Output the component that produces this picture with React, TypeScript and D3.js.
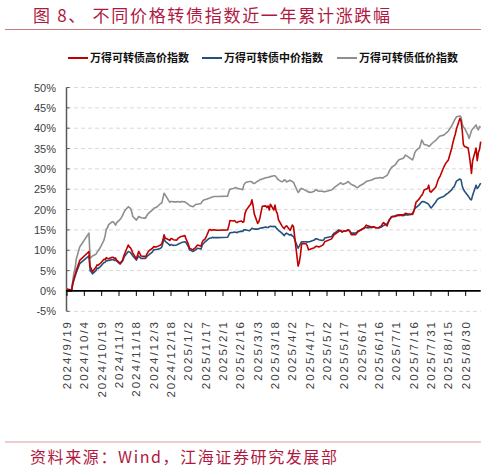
import React, { useRef, useEffect } from 'react';
import * as d3 from 'd3';

// 交易日（2024/9/19 – 2025/9/12）
const dates = [
  '2024-09-19', '2024-09-23', '2024-09-24', '2024-09-25', '2024-09-26', '2024-09-27', '2024-09-30',
  '2024-10-08', '2024-10-09', '2024-10-10', '2024-10-11', '2024-10-14', '2024-10-15', '2024-10-16',
  '2024-10-17', '2024-10-18', '2024-10-21', '2024-10-22', '2024-10-23', '2024-10-24', '2024-10-25',
  '2024-10-28', '2024-10-29', '2024-10-30', '2024-10-31', '2024-11-01', '2024-11-04', '2024-11-05',
  '2024-11-06', '2024-11-07', '2024-11-08', '2024-11-11', '2024-11-12', '2024-11-13', '2024-11-14',
  '2024-11-15', '2024-11-18', '2024-11-19', '2024-11-20', '2024-11-21', '2024-11-22', '2024-11-25',
  '2024-11-26', '2024-11-27', '2024-11-28', '2024-11-29', '2024-12-02', '2024-12-03', '2024-12-05',
  '2024-12-06', '2024-12-09', '2024-12-10', '2024-12-11', '2024-12-12', '2024-12-13', '2024-12-16',
  '2024-12-17', '2024-12-18', '2024-12-19', '2024-12-20', '2024-12-23', '2024-12-24', '2024-12-26',
  '2024-12-27', '2024-12-30', '2024-12-31', '2025-01-02', '2025-01-03', '2025-01-06', '2025-01-07',
  '2025-01-08', '2025-01-09', '2025-01-10', '2025-01-13', '2025-01-14', '2025-01-15', '2025-01-16',
  '2025-01-17', '2025-01-20', '2025-01-21', '2025-01-22', '2025-01-23', '2025-01-24', '2025-01-27',
  '2025-02-05', '2025-02-06', '2025-02-07', '2025-02-10', '2025-02-11', '2025-02-12', '2025-02-13',
  '2025-02-14', '2025-02-17', '2025-02-18', '2025-02-19', '2025-02-20', '2025-02-21', '2025-02-24',
  '2025-02-25', '2025-02-26', '2025-02-27', '2025-02-28', '2025-03-03', '2025-03-04', '2025-03-05',
  '2025-03-06', '2025-03-07', '2025-03-10', '2025-03-11', '2025-03-12', '2025-03-13', '2025-03-14',
  '2025-03-17', '2025-03-18', '2025-03-19', '2025-03-20', '2025-03-21', '2025-03-24', '2025-03-25',
  '2025-03-26', '2025-03-27', '2025-03-28', '2025-03-31', '2025-04-01', '2025-04-02', '2025-04-03',
  '2025-04-07', '2025-04-08', '2025-04-09', '2025-04-10', '2025-04-11', '2025-04-14', '2025-04-15',
  '2025-04-16', '2025-04-17', '2025-04-18', '2025-04-21', '2025-04-22', '2025-04-23', '2025-04-24',
  '2025-04-25', '2025-04-28', '2025-04-29', '2025-04-30', '2025-05-06', '2025-05-07', '2025-05-08',
  '2025-05-09', '2025-05-12', '2025-05-13', '2025-05-14', '2025-05-15', '2025-05-16', '2025-05-19',
  '2025-05-20', '2025-05-21', '2025-05-22', '2025-05-23', '2025-05-26', '2025-05-27', '2025-05-28',
  '2025-05-29', '2025-05-30', '2025-06-03', '2025-06-04', '2025-06-05', '2025-06-06', '2025-06-09',
  '2025-06-10', '2025-06-11', '2025-06-12', '2025-06-13', '2025-06-16', '2025-06-17', '2025-06-18',
  '2025-06-19', '2025-06-20', '2025-06-23', '2025-06-24', '2025-06-25', '2025-06-26', '2025-06-27',
  '2025-06-30', '2025-07-01', '2025-07-02', '2025-07-03', '2025-07-04', '2025-07-07', '2025-07-08',
  '2025-07-09', '2025-07-10', '2025-07-11', '2025-07-14', '2025-07-15', '2025-07-16', '2025-07-17',
  '2025-07-18', '2025-07-21', '2025-07-22', '2025-07-23', '2025-07-24', '2025-07-25', '2025-07-28',
  '2025-07-29', '2025-07-30', '2025-07-31', '2025-08-01', '2025-08-04', '2025-08-05', '2025-08-06',
  '2025-08-07', '2025-08-08', '2025-08-11', '2025-08-12', '2025-08-13', '2025-08-14', '2025-08-15',
  '2025-08-18', '2025-08-19', '2025-08-20', '2025-08-21', '2025-08-22', '2025-08-25', '2025-08-26',
  '2025-08-27', '2025-08-28', '2025-08-29', '2025-09-01', '2025-09-02', '2025-09-03', '2025-09-04',
  '2025-09-05', '2025-09-08', '2025-09-09', '2025-09-10', '2025-09-11', '2025-09-12'
];

// 万得可转债高价指数 (%)
const highPrice = [
  0.5, 0.2, 2.0, 3.0, 4.0, 5.0, 7.5,
  9.7, 6.0, 5.5, 4.7, 5.8, 6.4, 6.3,
  6.6, 6.8, 7.8, 7.7, 8.2, 8.0, 7.9,
  8.3, 8.3, 8.0, 8.1, 7.6, 6.8, 7.2,
  7.5, 8.5, 9.2, 11.3, 10.8, 10.6, 10.0,
  9.3, 7.9, 8.8, 9.7, 9.2, 8.6, 8.5,
  8.4, 9.0, 9.5, 9.9, 10.5, 10.9, 10.8,
  10.9, 11.3, 11.6, 12.5, 13.8, 13.0, 12.6,
  12.4, 12.9, 12.8, 12.6, 12.5, 12.9, 13.3,
  13.4, 13.6, 12.8, 11.5, 10.5, 10.1, 10.4,
  10.6, 11.0, 11.3, 11.0, 12.0, 12.5, 12.6,
  13.0, 15.0, 15.1, 14.9, 15.0, 15.0, 14.9,
  15.0, 16.0, 17.3, 17.2, 17.3, 17.0, 16.8,
  17.0, 17.2, 16.9, 17.0, 19.0, 19.8, 21.0,
  21.3, 22.4, 21.0, 19.0, 16.6, 17.0, 18.0,
  19.5, 20.8, 20.9, 20.5, 20.9, 19.9, 21.3,
  19.9, 21.1, 19.6, 19.0, 17.5, 16.0, 15.6,
  15.3, 15.8, 16.0, 14.9, 15.5, 16.2, 15.8,
  6.1, 7.0, 8.8, 11.5, 11.7, 11.6, 11.0,
  10.1, 10.2, 10.3, 10.6, 10.9, 11.0, 10.9,
  10.8, 11.2, 11.5, 12.1, 12.8, 13.3, 13.8,
  14.0, 14.6, 14.8, 14.8, 14.5, 14.7, 14.8,
  15.0, 14.9, 14.5, 13.8, 13.8, 13.9, 14.3,
  14.8, 14.8, 15.4, 15.8, 16.2, 16.0, 15.8,
  15.6, 15.8, 15.7, 15.5, 15.6, 15.8, 16.0,
  16.5, 16.8, 16.0, 16.8, 17.5, 17.9, 18.2,
  18.3, 18.4, 18.6, 18.7, 18.7, 18.7, 18.9,
  19.1, 19.0, 18.9, 18.9, 18.8, 19.5, 20.5,
  21.8, 22.7, 23.2, 23.5, 24.0, 24.8, 25.2,
  26.0, 24.5, 24.3, 24.6, 25.5, 26.3, 27.2,
  27.8, 28.3, 30.4, 31.0, 31.5, 31.8, 32.2,
  35.2, 36.5, 37.6, 38.5, 39.8, 42.4, 41.8,
  39.5, 36.0, 35.5, 35.2, 33.6, 31.5, 28.9,
  32.0, 35.1, 32.0, 34.0, 34.8, 36.7
];

// 万得可转债中价指数 (%)
const midPrice = [
  0.2, 0.0, 1.7, 2.7, 3.6, 4.5, 6.7,
  8.6, 5.0, 4.7, 4.2, 5.0, 5.6, 5.5,
  5.8, 6.0, 7.0, 7.0, 7.5, 7.4, 7.5,
  7.7, 7.7, 7.5, 7.6, 7.3, 6.6, 7.0,
  7.3, 8.0, 8.6, 9.7, 9.6, 9.4, 9.0,
  8.6, 7.6, 8.1, 8.6, 8.3, 8.0, 8.0,
  8.0, 8.4, 8.7, 8.9, 9.6, 10.1, 10.2,
  10.2, 10.5, 10.8, 11.8, 12.9, 12.2, 11.5,
  11.2, 11.4, 11.3, 11.2, 11.3, 11.5, 11.7,
  11.9, 12.1, 11.9, 10.9, 10.1, 9.7, 9.9,
  10.0, 10.3, 10.5, 10.3, 11.2, 11.7, 11.9,
  12.2, 12.9, 13.0, 13.0, 13.2, 13.1, 13.1,
  13.2, 13.8, 14.3, 14.4, 14.5, 14.4, 14.3,
  14.5, 14.7, 14.6, 15.0, 15.0, 15.0, 14.8,
  15.1, 15.4, 15.3, 15.2, 15.2, 15.3, 15.4,
  15.5, 15.5, 15.7, 15.6, 15.6, 15.8, 15.9,
  15.8, 15.9, 15.5, 15.2, 14.9, 14.2, 13.9,
  13.6, 14.0, 14.2, 13.7, 13.9, 13.5, 13.4,
  10.5, 11.0, 11.6, 12.1, 12.1, 12.1, 12.0,
  12.1, 12.1, 12.2, 12.5, 12.8, 12.8, 12.7,
  12.6, 12.4, 12.5, 13.0, 13.4, 13.8, 14.2,
  14.3, 15.0, 14.9, 14.8, 14.5, 14.6, 14.8,
  15.0, 14.9, 14.6, 14.2, 14.2, 14.3, 14.4,
  14.6, 14.8, 15.5, 15.6, 15.6, 15.5, 15.6,
  15.6, 15.7, 15.7, 15.6, 15.5, 15.6, 15.7,
  15.9, 16.1, 16.5, 17.0, 17.5, 17.9, 18.3,
  18.5, 18.6, 18.6, 18.5, 18.6, 18.5, 18.6,
  18.7, 18.7, 18.7, 18.8, 19.0, 19.6, 20.2,
  20.5, 21.2, 21.6, 21.9, 22.0, 21.9, 21.5,
  21.3, 20.8, 20.4, 20.7, 21.8, 22.3, 22.6,
  22.8, 22.9, 23.2, 23.5, 23.7, 23.9, 24.1,
  24.9, 25.4, 25.6, 26.3, 27.0, 27.5, 27.3,
  25.8, 25.0, 24.5, 23.4, 23.0, 22.5, 22.4,
  23.5, 26.0, 25.2, 25.5, 26.0, 26.5
];

// 万得可转债低价指数 (%)
const lowPrice = [
  0.0, 0.0, 2.5, 4.5, 5.5, 7.8, 10.8,
  14.2, 8.0, 8.3, 8.6, 9.0, 9.5, 9.9,
  10.3, 10.8, 12.5, 13.6, 15.2, 15.5, 16.3,
  17.0, 17.0, 16.6, 16.2, 16.8, 17.6, 18.0,
  18.5, 19.2, 19.7, 20.7, 20.5, 20.3, 19.4,
  18.3, 17.4, 17.8, 18.3, 18.2, 18.0, 17.9,
  17.9, 18.5, 18.9, 19.2, 19.9, 20.3, 20.5,
  20.7, 21.5, 21.6, 22.8, 24.0, 23.6, 22.2,
  21.8, 22.0, 22.0, 21.9, 21.9, 22.0, 21.8,
  22.0, 21.9, 21.7, 21.3, 21.0, 20.7, 20.9,
  21.2, 21.3, 21.3, 21.5, 22.0, 22.3, 22.4,
  22.5, 22.8, 22.9, 23.0, 23.1, 23.2, 23.2,
  23.3, 24.3, 25.0, 25.2, 25.3, 25.4, 25.3,
  25.2, 25.0, 24.9, 26.0, 26.5, 26.7, 26.9,
  26.9, 26.8, 26.5, 26.4, 27.0, 27.1, 27.4,
  27.4, 27.5, 27.8, 27.9, 27.9, 28.0, 28.1,
  28.3, 28.3, 28.0, 27.6, 27.3, 26.8, 27.0,
  27.3, 27.2, 26.8, 27.2, 27.0, 26.9, 26.7,
  24.2, 24.5, 25.0, 25.2, 25.1, 24.6, 24.5,
  24.3, 24.3, 24.2, 24.5, 24.8, 24.9, 24.6,
  24.5, 24.5, 24.4, 24.4, 24.8, 25.1, 25.3,
  25.6, 26.2, 26.4, 26.6, 26.3, 26.2, 26.6,
  26.9, 26.7, 26.4, 26.2, 25.8, 25.6, 25.4,
  25.5, 25.8, 26.4, 26.7, 26.9, 27.0, 27.2,
  27.3, 27.5, 27.6, 27.7, 27.8, 27.9, 27.8,
  27.7, 27.9, 28.4, 28.9, 29.5, 30.0, 30.4,
  31.0, 31.4, 31.8, 32.2, 32.3, 32.6, 33.0,
  33.4, 33.2, 33.0, 32.4, 32.2, 33.0, 34.0,
  34.5, 35.2, 36.0, 37.1, 36.6, 36.0, 35.8,
  35.5, 35.7, 36.0, 36.3, 37.0, 37.3, 37.6,
  37.9, 38.1, 38.3, 38.5, 38.8, 39.0, 39.3,
  40.6, 41.2, 41.8, 42.3, 42.8, 43.0, 42.8,
  41.0, 40.3, 40.0, 38.3, 37.5, 38.4, 39.4,
  39.8, 40.8, 40.0, 39.6, 40.4, 40.2
];

const seriesNames = ['万得可转债高价指数', '万得可转债中价指数', '万得可转债低价指数'];
const seriesColors = ['#c00000', '#24527e', '#8e8e8e'];

const xTickLabels = [
  '2024/9/19', '2024/10/4', '2024/10/19', '2024/11/3', '2024/11/18', '2024/12/3', '2024/12/18',
  '2025/1/2', '2025/1/17', '2025/2/1', '2025/2/16', '2025/3/3', '2025/3/18', '2025/4/2',
  '2025/4/17', '2025/5/2', '2025/5/17', '2025/6/1', '2025/6/16', '2025/7/1', '2025/7/16',
  '2025/7/31', '2025/8/15', '2025/8/30'
];
const yTicks = [-5, 0, 5, 10, 15, 20, 25, 30, 35, 40, 45, 50];

const title = '图 8、 不同价格转债指数近一年累计涨跌幅';
const source = '资料来源：Wind，江海证券研究发展部';

export default function App(): JSX.Element {
  const svgRef = useRef<SVGSVGElement>(null);

  useEffect(() => {
    const el = svgRef.current;
    if (el == null) return;
    const svg = d3.select(el);
    svg.selectAll('*').remove();

    const W = 497;
    const H = 472;
    const plot = { left: 67, right: 480.7, top: 87.5, bottom: 311.3 };

    const parseDay = d3.timeParse('%Y-%m-%d');
    const parseTick = d3.timeParse('%Y/%m/%d');
    const days = dates.map((d) => parseDay(d) as Date);

    const x = d3
      .scaleTime()
      .domain([parseTick('2024/9/19') as Date, days[days.length - 1]])
      .range([plot.left, plot.right]);
    const y = d3.scaleLinear().domain([-5, 50]).range([plot.bottom, plot.top]);

    svg.append('rect').attr('width', W).attr('height', H).attr('fill', '#ffffff');

    // 标题
    svg
      .append('text')
      .attr('x', 33)
      .attr('y', 22)
      .attr('fill', '#b0193f')
      .style('font-family', '"Noto Sans CJK SC", sans-serif')
      .style('font-size', '17px')
      .style('letter-spacing', '1.7px')
      .text(title);
    svg
      .append('line')
      .attr('x1', 5)
      .attr('x2', 481)
      .attr('y1', 29.5)
      .attr('y2', 29.5)
      .attr('stroke', '#c97a7f')
      .attr('stroke-width', 1);

    // 图例
    const legendX = [68, 202, 337];
    const legend = svg
      .selectAll('g.legend')
      .data(seriesNames)
      .join('g')
      .attr('class', 'legend')
      .attr('transform', (_d, i) => `translate(${legendX[i]}, 58)`);
    legend
      .append('line')
      .attr('x1', 0)
      .attr('x2', 20)
      .attr('stroke', (_d, i) => seriesColors[i])
      .attr('stroke-width', 2);
    legend
      .append('text')
      .attr('x', 22)
      .attr('y', 4)
      .attr('fill', '#111')
      .style('font-family', '"Noto Sans CJK SC", sans-serif')
      .style('font-weight', 700)
      .style('font-size', '11px')
      .text((d) => d);

    // 网格线
    svg
      .selectAll('line.grid')
      .data(yTicks.filter((t) => t !== 0))
      .join('line')
      .attr('class', 'grid')
      .attr('x1', plot.left)
      .attr('x2', plot.right)
      .attr('y1', (d) => y(d))
      .attr('y2', (d) => y(d))
      .attr('stroke', '#d9d9d9')
      .attr('stroke-width', 1)
      .attr('stroke-dasharray', '4,3');

    // y 轴
    svg
      .append('line')
      .attr('x1', plot.left - 0.5)
      .attr('x2', plot.left - 0.5)
      .attr('y1', y(50))
      .attr('y2', y(-5))
      .attr('stroke', '#595959')
      .attr('stroke-width', 1.5);
    svg
      .selectAll('line.ytick')
      .data(yTicks)
      .join('line')
      .attr('class', 'ytick')
      .attr('x1', plot.left - 0.5)
      .attr('x2', plot.left + 2.5)
      .attr('y1', (d) => y(d))
      .attr('y2', (d) => y(d))
      .attr('stroke', '#595959')
      .attr('stroke-width', 1);
    svg
      .selectAll('text.ylab')
      .data(yTicks)
      .join('text')
      .attr('class', 'ylab')
      .attr('x', 56)
      .attr('y', (d) => y(d) + 4)
      .attr('text-anchor', 'end')
      .attr('fill', '#404040')
      .style('font-family', '"Liberation Sans Narrow", "Liberation Sans", sans-serif')
      .style('font-size', '11px')
      .text((d) => `${d}%`);

    // 折线
    const line = d3
      .line<number>()
      .x((_d, i) => x(days[i]))
      .y((d) => y(d));
    const seriesValues = [lowPrice, midPrice, highPrice];
    const seriesOrder = [2, 1, 0];
    svg
      .selectAll('path.series')
      .data(seriesValues)
      .join('path')
      .attr('class', 'series')
      .attr('d', (d) => line(d))
      .attr('fill', 'none')
      .attr('stroke', (_d, i) => seriesColors[seriesOrder[i]])
      .attr('stroke-width', 1.6)
      .attr('stroke-linejoin', 'round');

    // x 轴
    const tickDates = xTickLabels.map((t) => parseTick(t) as Date);
    svg
      .append('line')
      .attr('x1', plot.left - 1)
      .attr('x2', plot.right)
      .attr('y1', y(0))
      .attr('y2', y(0))
      .attr('stroke', '#000')
      .attr('stroke-width', 1.8);
    svg
      .selectAll('line.xtick')
      .data(tickDates)
      .join('line')
      .attr('class', 'xtick')
      .attr('x1', (d) => x(d))
      .attr('x2', (d) => x(d))
      .attr('y1', y(0))
      .attr('y2', y(0) + 5)
      .attr('stroke', '#000')
      .attr('stroke-width', 1);
    svg
      .selectAll('text.xlab')
      .data(xTickLabels)
      .join('text')
      .attr('class', 'xlab')
      .attr('transform', (_d, i) => `translate(${x(tickDates[i]) + 4}, 320) rotate(-90)`)
      .attr('text-anchor', 'end')
      .attr('fill', '#404040')
      .style('font-family', '"Liberation Sans", sans-serif')
      .style('font-size', '11.5px')
      .style('letter-spacing', '2px')
      .text((d) => d);

    // 资料来源
    svg
      .append('line')
      .attr('x1', 5)
      .attr('x2', 481)
      .attr('y1', 442)
      .attr('y2', 442)
      .attr('stroke', '#d99a9e')
      .attr('stroke-width', 1);
    svg
      .append('text')
      .attr('x', 30)
      .attr('y', 463)
      .attr('fill', '#b0193f')
      .style('font-family', '"Noto Sans CJK SC", sans-serif')
      .style('font-size', '16px')
      .style('letter-spacing', '1.6px')
      .text(source);
  }, []);

  return (
    <svg
      ref={svgRef}
      width={497}
      height={472}
      style={{ position: 'absolute', left: 0, top: 0, display: 'block' }}
    />
  );
}
